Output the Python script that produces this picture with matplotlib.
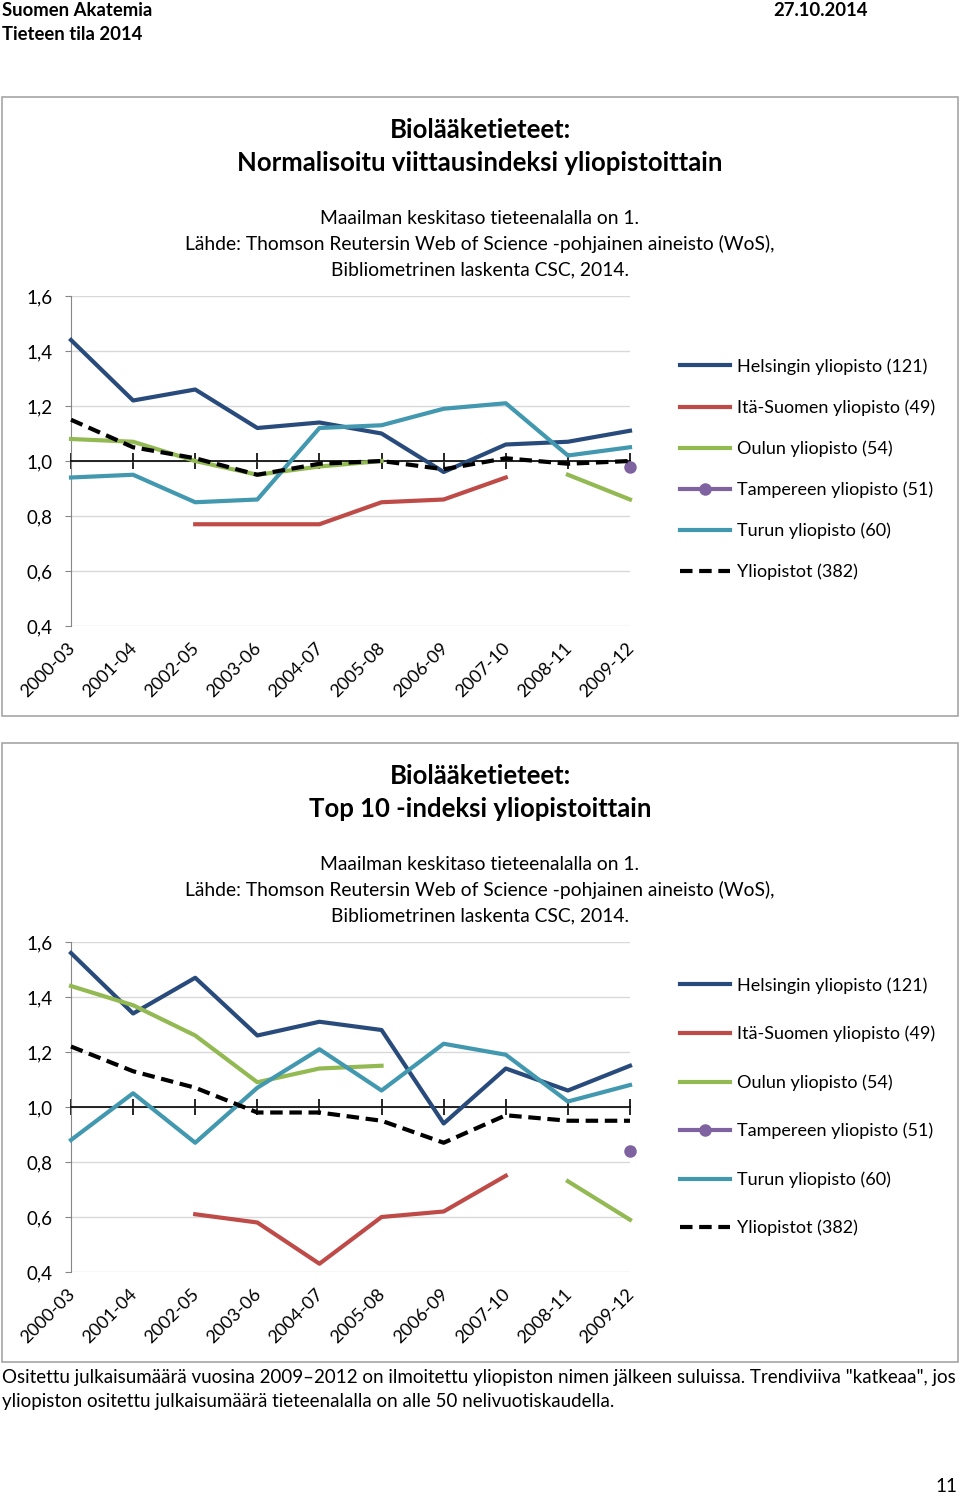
import numpy as np
import matplotlib
matplotlib.use("Agg")
import matplotlib.pyplot as plt
from matplotlib.patches import Rectangle

plt.rcParams['font.family'] = ['Lato', 'DejaVu Sans']

# data
periods = ['2000-03', '2001-04', '2002-05', '2003-06', '2004-07',
           '2005-08', '2006-09', '2007-10', '2008-11', '2009-12']
labels = ['Helsingin yliopisto (121)', 'Itä-Suomen yliopisto (49)', 'Oulun yliopisto (54)',
          'Tampereen yliopisto (51)', 'Turun yliopisto (60)', 'Yliopistot (382)']
N = None

# normalisoitu viittausindeksi
cit_hel = [1.44, 1.22, 1.26, 1.12, 1.14, 1.10, 0.96, 1.06, 1.07, 1.11]
cit_ita = [N, N, 0.77, 0.77, 0.77, 0.85, 0.86, 0.94, N, N]
cit_oul = [1.08, 1.07, 1.00, 0.95, 0.98, 1.00, N, N, 0.95, 0.86]
cit_tam = [N, N, N, N, N, N, N, N, N, 0.98]
cit_tur = [0.94, 0.95, 0.85, 0.86, 1.12, 1.13, 1.19, 1.21, 1.02, 1.05]
cit_all = [1.15, 1.05, 1.01, 0.95, 0.99, 1.00, 0.97, 1.01, 0.99, 1.00]

# top 10 -indeksi
top_hel = [1.56, 1.34, 1.47, 1.26, 1.31, 1.28, 0.94, 1.14, 1.06, 1.15]
top_ita = [N, N, 0.61, 0.58, 0.43, 0.60, 0.62, 0.75, N, N]
top_oul = [1.44, 1.37, 1.26, 1.09, 1.14, 1.15, N, N, 0.73, 0.59]
top_tam = [N, N, N, N, N, N, N, N, N, 0.84]
top_tur = [0.88, 1.05, 0.87, 1.07, 1.21, 1.06, 1.23, 1.19, 1.02, 1.08]
top_all = [1.22, 1.13, 1.07, 0.98, 0.98, 0.95, 0.87, 0.97, 0.95, 0.95]

yticks = [0.4, 0.6, 0.8, 1.0, 1.2, 1.4, 1.6]
ytick_labels = ['0,4', '0,6', '0,8', '1,0', '1,2', '1,4', '1,6']

colors = ['#284b7c', '#be4b48', '#93b952', '#7f63a1', '#4198af', 'black']

subtitle = ["Maailman keskitaso tieteenalalla on 1.",
            "Lähde: Thomson Reutersin Web of Science -pohjainen aineisto (WoS),",
            "Bibliometrinen laskenta CSC, 2014."]
footer = ['Ositettu julkaisumäärä vuosina 2009–2012 on ilmoitettu yliopiston nimen jälkeen suluissa. '
          'Trendiviiva "katkeaa", jos',
          'yliopiston ositettu julkaisumäärä tieteenalalla on alle 50 nelivuotiskaudella.']

W, H = 960, 1497
fig = plt.figure(figsize=(W / 100, H / 100), dpi=100)


def fx(px):
    return px / W


def fy(py):
    return 1 - py / H


def panel(top, series, title2, legend_top, legend_step):
    # frame
    fig.add_artist(Rectangle((fx(2), fy(top + 619)), fx(956), 619 / H, transform=fig.transFigure,
                             fill=False, edgecolor='#a6a6a6', lw=1.2))
    fig.text(0.5, fy(top + 33), 'Biolääketieteet:', ha='center', va='center',
             fontsize=18.5, fontweight='bold')
    fig.text(0.5, fy(top + 66), title2, ha='center', va='center', fontsize=18.5, fontweight='bold')
    for k, line in enumerate(subtitle):
        fig.text(0.5, fy(top + 121 + 26 * k), line, ha='center', va='center', fontsize=13.9)

    y16 = top + 199
    ax = fig.add_axes([fx(71), fy(y16 + 330), fx(559), 330 / H])
    x = np.arange(len(periods))
    handles = []
    for vals, lab, col in zip(series, labels, colors):
        v = np.array([np.nan if a is None else a for a in vals], dtype=float)
        if lab.startswith('Yliopistot'):
            h, = ax.plot(x, v, color=col, lw=3, dashes=(3, 1.6), clip_on=False, zorder=4)
        elif lab.startswith('Tampereen'):
            h, = ax.plot(x, v, color=col, lw=3, marker='o', ms=8, clip_on=False, zorder=3)
        else:
            h, = ax.plot(x, v, color=col, lw=3, clip_on=False, zorder=3)
        handles.append(h)

    ax.set_xlim(0, 9)
    ax.set_ylim(0.4, 1.6)
    ax.set_yticks(yticks)
    ax.set_yticklabels(ytick_labels, fontsize=13.5)
    ax.grid(axis='y', color='#d9d9d9', lw=1)
    ax.set_axisbelow(True)
    for s in ['top', 'right']:
        ax.spines[s].set_visible(False)
    ax.spines['left'].set_color('#868686')
    ax.spines['bottom'].set_position(('data', 1.0))
    ax.spines['bottom'].set_color('black')
    ax.spines['bottom'].set_linewidth(1.2)
    ax.tick_params(axis='y', length=4, color='#868686', pad=9)
    ax.set_xticks(x)
    ax.tick_params(axis='x', direction='inout', length=12, width=1.2, labelbottom=False)
    for i, p in enumerate(periods):
        ax.annotate(p, xy=(i, 0.4), xytext=(-3, -10), textcoords='offset points',
                    ha='right', va='top', rotation=45, rotation_mode='anchor', fontsize=13,
                    annotation_clip=False)

    fig.legend(handles, labels, loc='upper left', bbox_to_anchor=(fx(664), fy(legend_top)),
               frameon=False, fontsize=13, handlelength=2.78, handletextpad=0.39,
               labelspacing=legend_step)
    return ax


panel(97, [cit_hel, cit_ita, cit_oul, cit_tam, cit_tur, cit_all],
      'Normalisoitu viittausindeksi yliopistoittain', 342, 1.36)
panel(743, [top_hel, top_ita, top_oul, top_tam, top_tur, top_all],
      'Top 10 -indeksi yliopistoittain', 961, 1.77)

# page header / footer
fig.text(fx(2), fy(10), 'Suomen Akatemia', ha='left', va='center', fontsize=13.3, fontweight='bold')
fig.text(fx(2), fy(34), 'Tieteen tila 2014', ha='left', va='center', fontsize=13.3, fontweight='bold')
fig.text(fx(868), fy(10), '27.10.2014', ha='right', va='center', fontsize=13.3, fontweight='bold')
for k, line in enumerate(footer):
    fig.text(fx(2), fy(1378 + 24 * k), line, ha='left', va='center', fontsize=13.5)
fig.text(fx(957), fy(1487), '11', ha='right', va='center', fontsize=13.5)

fig.savefig('out.png', dpi=100)
